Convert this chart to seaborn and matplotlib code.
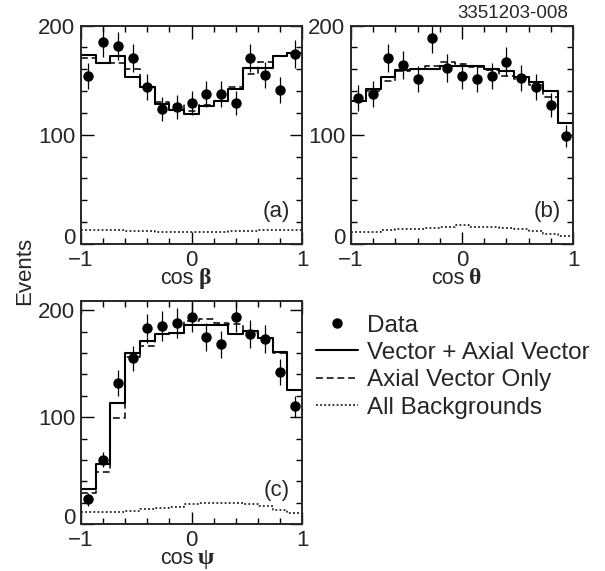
import numpy as np
import pandas as pd
import matplotlib
matplotlib.use("Agg")
import matplotlib.pyplot as plt
import seaborn as sns
from matplotlib.lines import Line2D
from matplotlib.ticker import MultipleLocator

# 15 equal bins over cos(angle) in [-1, 1]
n_bins = 15
edges = np.linspace(-1, 1, n_bins + 1)
centers = (edges[:-1] + edges[1:]) / 2

# (a) cos beta
data_a = [154, 185, 181, 170, 144, 124, 125, 129, 137, 137, 129, 170, 155, 141, 174]
err_a = [12, 14, 13, 13, 12, 11, 11, 11, 12, 12, 11, 13, 12, 12, 13]
vav_a = [173, 166, 172, 153, 144, 128, 123, 119, 126, 131, 142, 161, 161, 172, 175]
av_a = [170, 166, 166, 160, 144, 130, 127, 122, 127, 131, 144, 156, 167, 172, 175]
bkg_a = [13, 13, 13, 12, 12, 11, 11, 11, 11, 11, 12, 12, 13, 13, 13]

# (b) cos theta
data_b = [134, 137, 170, 164, 151, 189, 161, 154, 151, 154, 167, 152, 144, 127, 99]
err_b = [12, 12, 13, 13, 12, 14, 13, 12, 12, 12, 13, 12, 12, 11, 10]
vav_b = [131, 142, 153, 159, 160, 160, 163, 163, 163, 160, 158, 153, 148, 140, 111]
av_b = [131, 140, 149, 158, 160, 163, 167, 165, 162, 159, 154, 151, 146, 135, 111]
bkg_b = [11, 11, 13, 14, 14, 15, 16, 17, 16, 16, 15, 14, 12, 9, 7]

# (c) cos psi
data_c = [23, 60, 132, 155, 183, 185, 188, 194, 175, 168, 194, 178, 173, 142, 110]
err_c = [6, 7, 12, 12, 14, 14, 14, 14, 13, 13, 14, 13, 13, 12, 10]
vav_c = [33, 56, 113, 160, 171, 178, 179, 186, 186, 186, 178, 181, 174, 161, 125]
av_c = [29, 49, 99, 156, 167, 178, 179, 190, 192, 188, 187, 179, 174, 160, 125]
bkg_c = [11, 11, 11, 12, 14, 15, 16, 19, 20, 20, 20, 19, 17, 13, 10]

FS = 16
DASH = (0, (4.5, 2.5))
DOT = (0, (1.2, 1.5))

sns.set_style("ticks")
plt.rcParams["font.family"] = ["Liberation Sans", "DejaVu Sans"]
plt.rcParams["axes.linewidth"] = 1.4


def step_hist(ax, values, **kws):
    df = pd.DataFrame({"x": centers, "w": values})
    sns.histplot(data=df, x="x", weights="w", bins=n_bins, binrange=(-1, 1),
                 element="step", fill=False, color="black", ax=ax, **kws)


def draw_panel(ax, data, err, vav, av, bkg, ymax, tag, greek, label_y):
    step_hist(ax, bkg, linewidth=1.1, linestyle=DOT)
    step_hist(ax, av, linewidth=1.1, linestyle=DASH)
    step_hist(ax, vav, linewidth=1.5)
    ax.errorbar(centers, data, yerr=err, fmt="o", color="black", ms=6.5,
                elinewidth=0.9, capsize=0, zorder=5)

    ax.set_xlim(-1, 1)
    ax.set_ylim(0, ymax)
    ax.xaxis.set_major_locator(MultipleLocator(1))
    ax.xaxis.set_minor_locator(MultipleLocator(0.2))
    ax.set_yticks([0, 100, 200])
    ax.set_yticklabels(["0", "100", "200"])
    ax.yaxis.set_minor_locator(MultipleLocator(20))
    ax.tick_params(which="both", direction="in", top=True, right=True,
                   labelsize=FS, width=1, color="black")
    ax.tick_params(which="major", length=9, pad=4)
    ax.tick_params(which="minor", length=4.5)
    ax.get_yticklabels()[0].set_verticalalignment("baseline")
    ax.set_xlabel("")
    ax.set_ylabel("")

    ax.text(0.945, 0.15, tag, transform=ax.transAxes, ha="right", va="center",
            fontsize=FS)
    ax.text(0.51, label_y, "cos", transform=ax.transAxes, ha="right",
            va="baseline", fontsize=15.5)
    ax.text(0.53, label_y, greek, transform=ax.transAxes, ha="left",
            va="baseline", fontsize=17, fontweight="bold",
            family=["Liberation Serif", "DejaVu Serif"])


fig = plt.figure(figsize=(6.05, 5.71), dpi=100)
ax_a = fig.add_axes([0.1339, 0.5727, 0.3653, 0.3826])
ax_b = fig.add_axes([0.5802, 0.5727, 0.3670, 0.3826])
ax_c = fig.add_axes([0.1339, 0.0823, 0.3653, 0.3911])

draw_panel(ax_a, data_a, err_a, vav_a, av_a, bkg_a, 200, "(a)", "β", -0.183)
draw_panel(ax_b, data_b, err_b, vav_b, av_b, bkg_b, 200, "(b)", "θ", -0.183)
draw_panel(ax_c, data_c, err_c, vav_c, av_c, bkg_c, 209, "(c)", "ψ", -0.179)

fig.text(25 / 605, 1 - 271 / 571, "Events", rotation=90, ha="center",
         va="center", fontsize=FS)
fig.text(568 / 605, 1 - 13 / 571, "3351203-008", ha="right", va="center",
         fontsize=13.5)

handles = [
    Line2D([], [], marker="o", linestyle="none", color="black", ms=6.5),
    Line2D([], [], color="black", linewidth=1.5),
    Line2D([], [], color="black", linewidth=1.1, linestyle=DASH),
    Line2D([], [], color="black", linewidth=1.1, linestyle=DOT),
]
labels = ["Data", "Vector + Axial Vector", "Axial Vector Only", "All Backgrounds"]
fig.legend(handles, labels, loc="upper left", bbox_to_anchor=(0.522, 0.449),
           frameon=False, fontsize=17.5, handlelength=1.75, handletextpad=0.37,
           labelspacing=0.22, borderpad=0, borderaxespad=0)

fig.savefig("out.png", dpi=100)
